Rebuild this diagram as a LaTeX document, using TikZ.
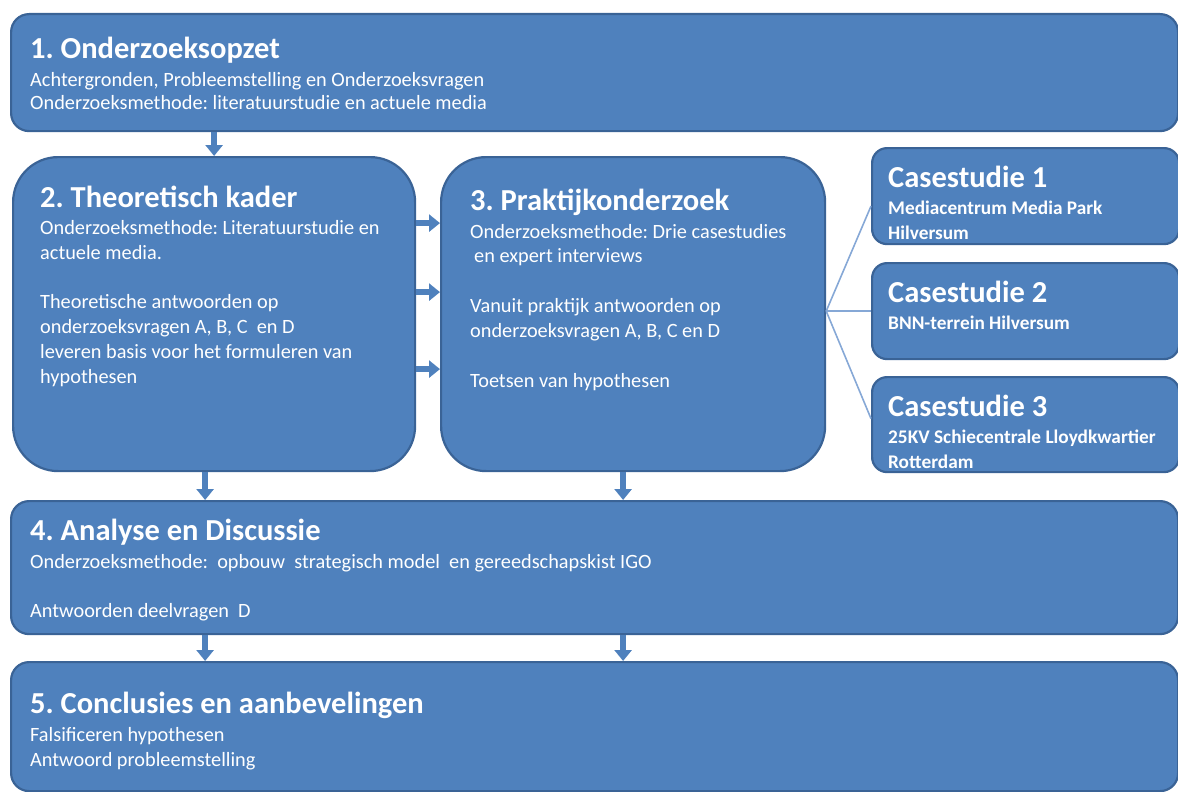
\documentclass[tikz,border=0pt]{standalone}
\usepackage{fontspec}
\setmainfont{Carlito}
\usetikzlibrary{arrows.meta}
\definecolor{panelfill}{HTML}{4F81BD}
\definecolor{panelline}{HTML}{3A6396}
\definecolor{linkblue}{HTML}{86A8D6}
\frenchspacing
\begin{document}
\begin{tikzpicture}[x=1pt,y=-1pt,
  panel/.style={rectangle,rounded corners=#1,fill=panelfill,draw=panelline,
    line width=2.2pt,inner sep=0pt,anchor=north west},
  panel/.default=18pt,
  ttl/.style={font=\bfseries\fontsize{30.5}{36}\selectfont,text=white,anchor=base west,inner sep=0pt},
  sub/.style={font=\fontsize{20.3}{24}\selectfont,text=white,anchor=base west,inner sep=0pt},
  subb/.style={font=\bfseries\fontsize{19.3}{24}\selectfont,text=white,anchor=base west,inner sep=0pt},
  flow/.style={draw=panelfill,line width=6pt,-{Triangle[length=11pt,width=17pt]}},
  link/.style={draw=linkblue,line width=1.6pt}]
\useasboundingbox (0,0) rectangle (1178,792);

% panels
\node[panel,minimum width=1167pt,minimum height=117pt] (b1) at (10,13) {};
\node[panel=45pt,minimum width=402pt,minimum height=314pt] (b2) at (12,156) {};
\node[panel=45pt,minimum width=384pt,minimum height=314pt] (b3) at (440,156) {};
\node[panel=15pt,minimum width=307pt,minimum height=96pt] (cs1) at (871,147) {};
\node[panel=15pt,minimum width=307pt,minimum height=96pt] (cs2) at (871,262) {};
\node[panel=15pt,minimum width=307pt,minimum height=95pt] (cs3) at (871,376) {};
\node[panel,minimum width=1167pt,minimum height=133pt] (b4) at (10,500) {};
\node[panel,minimum width=1167pt,minimum height=129pt] (b5) at (10,661) {};

% connectors
\draw[flow] (b1.south -| b2.north) -- (b2.north);
\draw[flow] ([yshift=91pt]b2.east) -- ([yshift=91pt]b3.west);
\draw[flow] ([yshift=22pt]b2.east) -- ([yshift=22pt]b3.west);
\draw[flow] ([yshift=-55pt]b2.east) -- ([yshift=-55pt]b3.west);
\draw[flow] ([xshift=-9pt]b2.south) -- ([xshift=-9pt]b2.south |- b4.north);
\draw[flow] ([xshift=-10pt]b3.south) -- ([xshift=-10pt]b3.south |- b4.north);
\draw[flow] ([xshift=-9pt]b2.south |- b4.south) -- ([xshift=-9pt]b2.south |- b5.north);
\draw[flow] ([xshift=-10pt]b3.south |- b4.south) -- ([xshift=-10pt]b3.south |- b5.north);

\coordinate (hub) at ([yshift=3pt]b3.east);
\draw[link] (hub) -- ([yshift=-10pt]cs1.west);
\draw[link] (hub) -- (cs2.west);
\draw[link] (hub) -- ([yshift=6pt]cs3.west);

% panel 1
\node[ttl] (t1) at (30,59) {1. Onderzoeksopzet};
\node[sub] (t1a) at (30,86) {Achtergronden, Probleemstelling en Onderzoeksvragen};
\node[sub] (t1b) at (30,110) {Onderzoeksmethode: literatuurstudie en actuele media};

% panel 2
\node[ttl] (t2) at (40,207) {2. Theoretisch kader};
\node[sub] (t2a) at (40,234) {Onderzoeksmethode: Literatuurstudie en};
\node[sub] (t2b) at (40,259) {actuele media.};
\node[sub] (t2c) at (40,308) {Theoretische antwoorden op};
\node[sub] (t2d) at (40,333) {onderzoeksvragen A, B, C\ \ en D};
\node[sub] (t2e) at (40,358) {leveren basis voor het formuleren van};
\node[sub] (t2f) at (40,383) {hypothesen};

% panel 3
\node[ttl] (t3) at (470,210) {3. Praktijkonderzoek};
\node[sub] (t3a) at (470,238) {Onderzoeksmethode: Drie casestudies};
\node[sub] (t3b) at (474,262) {en expert interviews};
\node[sub] (t3c) at (470,312) {Vanuit praktijk antwoorden op};
\node[sub] (t3d) at (470,337) {onderzoeksvragen A, B, C en D};
\node[sub] (t3e) at (470,387) {Toetsen van hypothesen};

% case studies
\node[ttl] (c1) at (888,187) {Casestudie 1};
\node[subb] (c1a) at (888,214) {Mediacentrum Media Park};
\begin{scope}
  \clip[rounded corners=15pt] ([yshift=2pt]cs1.south west) rectangle (cs1.north east);
  \node[subb] (c1b) at (888,239) {Hilversum};
\end{scope}
\node[ttl] (c2) at (888,302) {Casestudie 2};
\node[subb] (c2a) at (888,329) {BNN-terrein Hilversum};
\node[ttl] (c3) at (888,416) {Casestudie 3};
\node[subb] (c3a) at (888,443) {25KV Schiecentrale Lloydkwartier};
\begin{scope}
  \clip[rounded corners=15pt] ([yshift=2pt]cs3.south west) rectangle (cs3.north east);
  \node[subb] (c3b) at (888,468) {Rotterdam};
\end{scope}

% panel 4
\node[ttl] (t4) at (30,540) {4. Analyse en Discussie};
\node[sub] (t4a) at (30,568) {Onderzoeksmethode:\ \ opbouw\ \ strategisch model\ \ en gereedschapskist IGO};
\node[sub] (t4b) at (30,617) {Antwoorden deelvragen\ \ D};

% panel 5
\node[ttl] (t5) at (30,713) {5. Conclusies en aanbevelingen};
\node[sub] (t5a) at (30,741) {Falsificeren hypothesen};
\node[sub] (t5b) at (30,766) {Antwoord probleemstelling};
\end{tikzpicture}
\end{document}
